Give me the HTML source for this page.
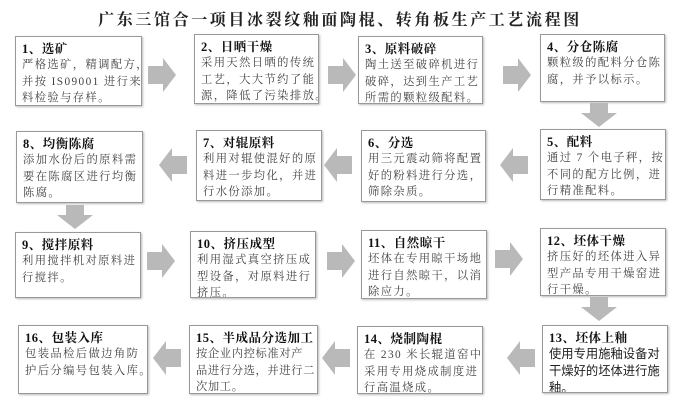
<!DOCTYPE html>
<html><head><meta charset="utf-8"><style>
body{margin:0;width:680px;height:408px;background:#fff;position:relative;overflow:hidden;font-family:"Liberation Serif","Noto Serif CJK SC",serif;color:#333}
.t{position:absolute;left:0;width:680px;top:7px;text-align:center;font-size:16px;font-weight:bold;letter-spacing:2.6px;color:#222}
.b{position:absolute;border:1px solid #999;box-shadow:1px 1px 2px #bbb;background:#fff;padding:4px 3px 0 6px;box-sizing:border-box;font-size:11.3px;line-height:16.5px;color:#444;letter-spacing:1.4px;overflow:hidden;white-space:nowrap}
.b b{color:#111;font-size:12.5px;display:block;line-height:16px;letter-spacing:0.5px}
svg{position:absolute;left:0;top:0}
</style></head><body>
<div class="t">广东三馆合一项目冰裂纹釉面陶棍、转角板生产工艺流程图</div>
<svg width="680" height="408">
<g fill="#b9b9b9">
<polygon points="148,66 163,66 163,58 176,75 163,92 163,84 148,84"/>
<polygon points="328,66 343,66 343,58 356,75 343,92 343,84 328,84"/>
<polygon points="503,66 518,66 518,58 531,75 518,92 518,84 503,84"/>
<polygon points="590,103 608,103 608,113 617,113 599,127 581,113 590,113"/>
<polygon points="528,156 513,156 513,148 500,165 513,182 513,174 528,174"/>
<polygon points="352,156 337,156 337,148 324,165 337,182 337,174 352,174"/>
<polygon points="187,156 172,156 172,148 159,165 172,182 172,174 187,174"/>
<polygon points="66,205 84,205 84,215 93,215 75,229 57,215 66,215"/>
<polygon points="147,252 162,252 162,244 175,261 162,278 162,270 147,270"/>
<polygon points="327,252 342,252 342,244 355,261 342,278 342,270 327,270"/>
<polygon points="495,250 510,250 510,242 523,259 510,276 510,268 495,268"/>
<polygon points="590,297 608,297 608,307 617,307 599,321 581,307 590,307"/>
<polygon points="535,349 520,349 520,341 507,358 520,375 520,367 535,367"/>
<polygon points="350,349 335,349 335,341 322,358 335,375 335,367 350,367"/>
<polygon points="181,349 166,349 166,341 153,358 166,375 166,367 181,367"/>
</g></svg>
<div class="b" style="left:15px;top:36px;width:127px;height:70px"><b>1、选矿</b>严格选矿，精调配方，<br>并按 IS09001 进行来<br>料检验与存样。</div>
<div class="b" style="left:194px;top:34px;width:125px;height:70px"><b>2、日晒干燥</b>采用天然日晒的传统<br>工艺，大大节约了能<br>源，降低了污染排放。</div>
<div class="b" style="left:358px;top:36px;width:125px;height:68px"><b>3、原料破碎</b>陶土送至破碎机进行<br>破碎，达到生产工艺<br>所需的颗粒级配料。</div>
<div class="b" style="left:540px;top:34px;width:125px;height:68px"><b>4、分仓陈腐</b>颗粒级的配料分仓陈<br>腐，并予以标示。</div>
<div class="b" style="left:16px;top:131px;width:127px;height:72px"><b>8、均衡陈腐</b>添加水份后的原料需<br>要在陈腐区进行均衡<br>陈腐。</div>
<div class="b" style="left:196px;top:130px;width:126px;height:71px"><b>7、对辊原料</b>利用对辊使混好的原<br>料进一步均化，并进<br>行水份添加。</div>
<div class="b" style="left:361px;top:130px;width:125px;height:72px"><b>6、分选</b>用三元震动筛将配置<br>好的粉料进行分选，<br>筛除杂质。</div>
<div class="b" style="left:540px;top:129px;width:126px;height:71px"><b>5、配料</b>通过 7 个电子秤，按<br>不同的配方比例，进<br>行精准配料。</div>
<div class="b" style="left:15px;top:232px;width:126px;height:66px"><b>9、搅拌原料</b>利用搅拌机对原料进<br>行搅拌。</div>
<div class="b" style="left:190px;top:231px;width:126px;height:67px"><b>10、挤压成型</b>利用湿式真空挤压成<br>型设备，对原料进行<br>挤压。</div>
<div class="b" style="left:361px;top:230px;width:126px;height:69px"><b>11、自然晾干</b>坯体在专用晾干场地<br>进行自然晾干，以消<br>除应力。</div>
<div class="b" style="left:540px;top:228px;width:126px;height:68px"><b>12、坯体干燥</b>挤压好的坯体进入异<br>型产品专用干燥窑进<br>行干燥。</div>
<div class="b" style="left:18px;top:325px;width:130px;height:69px"><b>16、包装入库</b>包装品检后做边角防<br>护后分编号包装入库。</div>
<div class="b" style="left:189px;top:325px;width:129px;height:69px;letter-spacing:0.6px"><b>15、半成品分选加工</b>按企业内控标准对产<br>品进行分选，并进行二<br>次加工。</div>
<div class="b" style="left:357px;top:326px;width:126px;height:68px"><b>14、烧制陶棍</b>在 230 米长辊道窑中<br>采用专用烧成制度进<br>行高温烧成。</div>
<div class="b" style="left:542px;top:325px;width:126px;height:68px;font-family:'Liberation Sans','Noto Sans CJK SC',sans-serif;font-size:12.3px;line-height:17px;color:#222;letter-spacing:0"><b style="font-family:'Liberation Serif','Noto Serif CJK SC',serif">13、坯体上釉</b>使用专用施釉设备对<br>干燥好的坯体进行施<br>釉。</div>
</body></html>
